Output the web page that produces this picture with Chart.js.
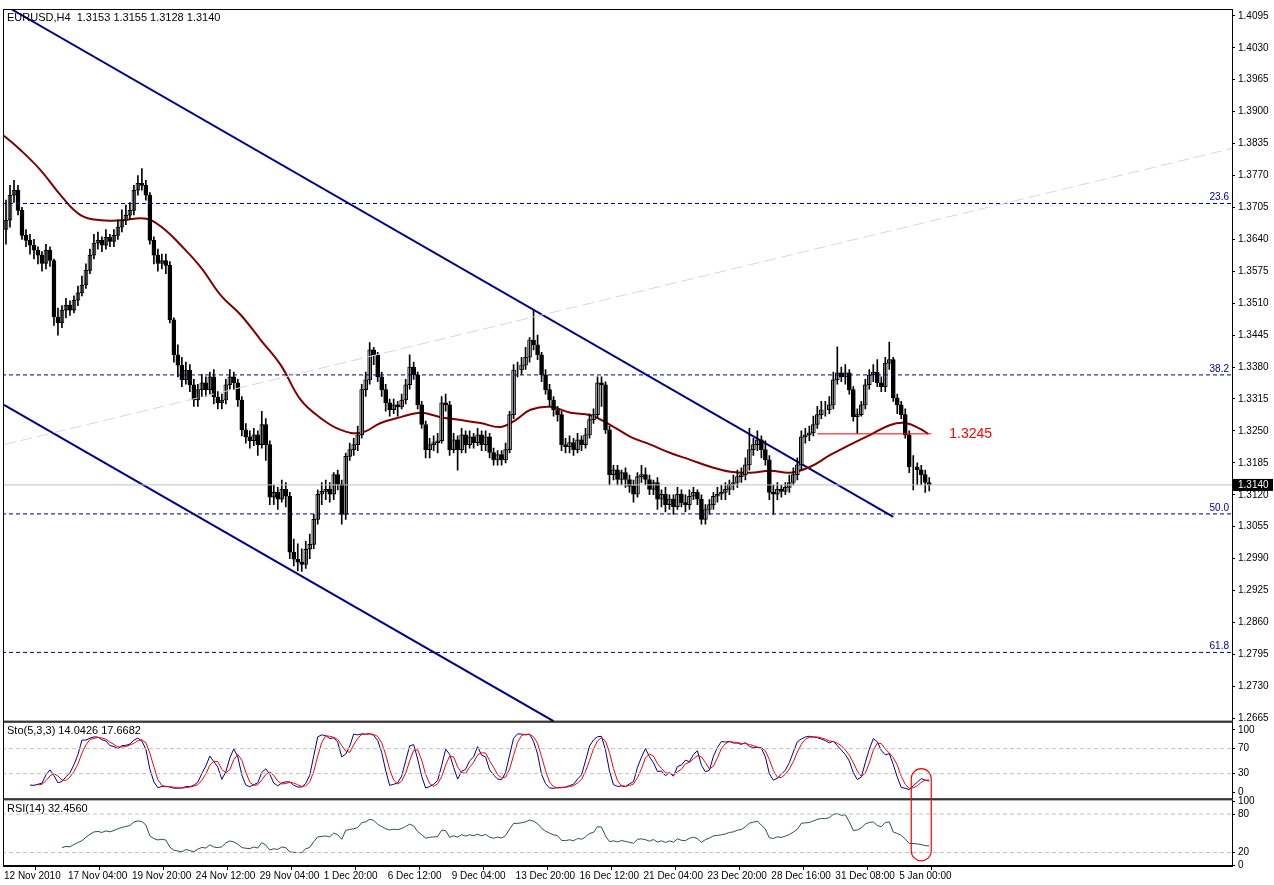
<!DOCTYPE html>
<html>
<head>
<meta charset="utf-8">
<script src="https://cdn.jsdelivr.net/npm/chart.js@4.4.1/dist/chart.umd.min.js"></script>
<style>
  html, body { margin: 0; padding: 0; background: #fff; }
  #wrap { width: 1274px; height: 885px; position: relative; }
</style>
</head>
<body>
<div id="wrap"><canvas id="chart"></canvas></div>
<script>
// EURUSD H4, prices stored as pips above 1.0000 (3140 = 1.3140)
const closes = [
  3679,3730,3740,3699,3648,3638,3628,3618,3608,3591,
  3618,3597,3482,3470,3496,3506,3496,3516,3531,3547,
  3577,3608,3632,3638,3628,3644,3636,3648,3665,3679,
  3689,3699,3740,3754,3750,3730,3638,3608,3591,3597,
  3587,3476,3405,3384,3354,3374,3344,3313,3334,3348,
  3334,3360,3319,3307,3313,3344,3360,3348,3313,3252,
  3238,3230,3242,3222,3263,3222,3115,3125,3111,3131,
  3117,3003,2989,2983,2978,3009,3019,3070,3121,3127,
  3131,3121,3161,3141,3080,3198,3212,3222,3242,3334,
  3354,3415,3405,3360,3334,3307,3293,3303,3299,3313,
  3344,3380,3364,3303,3263,3212,3222,3226,3230,3307,
  3303,3212,3232,3212,3242,3222,3238,3226,3242,3222,
  3238,3206,3191,3202,3191,3212,3283,3374,3374,3384,
  3400,3435,3425,3405,3364,3334,3313,3293,3283,3222,
  3218,3226,3212,3232,3222,3242,3273,3283,3348,3344,
  3252,3161,3171,3151,3165,3151,3137,3121,3157,3161,
  3151,3131,3145,3111,3121,3100,3111,3096,3121,3104,
  3100,3117,3125,3111,3070,3090,3100,3117,3121,3125,
  3131,3141,3145,3157,3161,3181,3212,3222,3232,3212,
  3191,3125,3121,3131,3127,3135,3145,3161,3181,3238,
  3242,3246,3263,3283,3293,3293,3303,3354,3368,3360,
  3368,3334,3279,3283,3303,3344,3364,3370,3348,3340,
  3388,3395,3317,3303,3283,3242,3177,3177,3171,3161,3145,3140
];
const highs = [
  3720,3750,3760,3750,3705,3660,3650,3640,3625,3615,
  3630,3625,3600,3500,3505,3520,3515,3525,3545,3565,
  3590,3620,3650,3655,3645,3660,3650,3660,3680,3700,
  3710,3715,3750,3770,3784,3760,3735,3645,3620,3610,
  3610,3595,3480,3425,3400,3390,3385,3355,3345,3365,
  3360,3370,3375,3330,3325,3355,3375,3370,3355,3320,
  3265,3250,3255,3250,3290,3275,3230,3140,3135,3150,
  3145,3125,3030,3020,3010,3025,3040,3080,3130,3145,
  3150,3145,3165,3170,3150,3205,3225,3235,3260,3345,
  3370,3430,3420,3410,3370,3345,3315,3315,3310,3325,
  3355,3405,3390,3370,3310,3270,3235,3240,3245,3320,
  3325,3310,3245,3240,3255,3250,3250,3245,3255,3250,
  3250,3245,3215,3210,3210,3225,3290,3385,3390,3400,
  3420,3440,3496,3445,3410,3375,3345,3320,3300,3290,
  3235,3240,3235,3245,3240,3255,3285,3295,3360,3360,
  3350,3260,3180,3180,3170,3175,3160,3150,3165,3180,
  3175,3160,3150,3155,3130,3135,3120,3120,3135,3130,
  3120,3130,3135,3130,3120,3100,3110,3125,3135,3140,
  3145,3150,3160,3170,3175,3195,3255,3235,3250,3240,
  3230,3200,3140,3145,3140,3145,3160,3175,3195,3250,
  3255,3260,3280,3300,3310,3310,3320,3370,3421,3380,
  3385,3375,3340,3295,3310,3355,3375,3385,3395,3360,
  3400,3431,3400,3325,3310,3295,3250,3200,3185,3180,3170,3155
];
const lows = [
  3630,3665,3715,3690,3640,3625,3610,3600,3590,3575,
  3580,3585,3465,3445,3460,3480,3485,3490,3505,3525,
  3540,3570,3600,3620,3615,3620,3625,3625,3640,3655,
  3670,3680,3690,3730,3740,3720,3630,3590,3575,3580,
  3570,3470,3390,3360,3340,3345,3330,3300,3300,3320,
  3320,3325,3305,3295,3295,3305,3335,3335,3300,3240,
  3225,3215,3220,3200,3215,3190,3100,3100,3090,3105,
  3095,2990,2975,2965,2964,2970,2990,3010,3060,3100,
  3110,3105,3110,3130,3060,3070,3190,3200,3210,3235,
  3320,3345,3385,3350,3320,3290,3280,3285,3280,3295,
  3305,3335,3355,3295,3255,3195,3195,3210,3205,3225,
  3290,3200,3205,3170,3205,3205,3215,3215,3220,3210,
  3210,3195,3180,3180,3180,3185,3205,3275,3360,3365,
  3375,3390,3415,3395,3350,3325,3300,3280,3270,3210,
  3205,3205,3200,3205,3210,3215,3235,3265,3275,3300,
  3245,3140,3150,3140,3140,3135,3125,3105,3115,3145,
  3140,3120,3120,3090,3095,3085,3090,3080,3090,3095,
  3085,3090,3110,3100,3060,3060,3080,3090,3105,3110,
  3110,3120,3130,3135,3145,3150,3170,3200,3210,3195,
  3180,3110,3080,3110,3115,3120,3125,3140,3150,3170,
  3225,3230,3240,3255,3275,3280,3285,3295,3345,3350,
  3345,3325,3270,3245,3280,3295,3335,3350,3340,3330,
  3330,3375,3310,3285,3275,3235,3165,3130,3140,3140,3125,3128
];
const firstOpen = 3660;

// moving average: bar index -> price
const maIdx = [-0.5,3.75,8.75,13.75,18.75,23.75,28.75,33.75,36.25,40,43.75,48.75,53.75,58.75,63.75,68.75,73.75,78.75,83.75,88.75,93.75,98.75,103.75,108.75,113.75,118.75,123.75,127.5,131.25,136.25,141.25,146.25,151.25,156.25,161.25,166.25,171.25,176.25,181.25,186.25,191.25,196.25,201.25,206.25,211.25,216.25,221.25,225,228.75,230.75];
const maVal = [1.3851,1.3821,1.3780,1.3729,1.3689,1.3679,1.3679,1.3683,1.3679,1.3658,1.3628,1.3583,1.3526,1.3486,1.3435,1.3384,1.3313,1.3276,1.3252,1.3246,1.3266,1.3278,1.3287,1.3278,1.3272,1.3266,1.3258,1.3272,1.3293,1.3299,1.3287,1.3282,1.3262,1.3238,1.3222,1.3205,1.3191,1.3177,1.3167,1.3165,1.3169,1.3165,1.3177,1.3201,1.3222,1.3242,1.3262,1.3266,1.3254,1.3244];

// drawn lines: [index, price] end points
const channelTop = [[1.25, 1.4109], [222, 1.3075]];
const channelBottom = [[-0.5, 1.3303], [137, 1.2659]];
const fanLine = [[-0.5, 1.3222], [306.75, 1.3825]];
const fibLevels = [1.3713, 1.3364, 1.3081, 1.2799];
const fibLabels = ['23.6', '38.2', '50.0', '61.8'];
const levelLine = [[203, 1.3244], [231.5, 1.3244]];
const levelText = '1.3245';
const lastPrice = 1.3140;

const priceTicks = [];
for (let p = 12665; p <= 14095; p += 65) priceTicks.push(p / 10000);
const timeLabels = ['12 Nov 2010','17 Nov 04:00','19 Nov 20:00','24 Nov 12:00','29 Nov 04:00','1 Dec 20:00','6 Dec 12:00','9 Dec 04:00','13 Dec 20:00','16 Dec 12:00','21 Dec 04:00','23 Dec 20:00','28 Dec 16:00','31 Dec 08:00','5 Jan 00:00'];

// build OHLC
const C = closes.map(v => 1 + v / 10000);
const H = highs.map(v => 1 + v / 10000);
const L = lows.map(v => 1 + v / 10000);
const O = C.map((c, i) => i === 0 ? 1 + firstOpen / 10000 : C[i - 1]);

// Stochastic(5,3,3)
function sma(arr, n) {
  return arr.map((v, i) => {
    if (i < n - 1 || arr.slice(i - n + 1, i + 1).some(x => x === null)) return null;
    return arr.slice(i - n + 1, i + 1).reduce((a, b) => a + b, 0) / n;
  });
}
const num = [], den = [];
C.forEach((c, i) => {
  if (i < 4) { num.push(null); den.push(null); return; }
  const hh = Math.max(...H.slice(i - 4, i + 1));
  const ll = Math.min(...L.slice(i - 4, i + 1));
  num.push(c - ll); den.push(hh - ll);
});
const sNum = sma(num, 3), sDen = sma(den, 3);
const stoK = sNum.map((v, i) => v === null ? null : (sDen[i] ? v / sDen[i] * 100 : 50));
const stoD = sma(stoK, 3);

// RSI(14)
const rsi = [null];
let ag = 0, al = 0;
for (let i = 1; i < C.length; i++) {
  const d = C[i] - C[i - 1];
  const g = Math.max(d, 0), l = Math.max(-d, 0);
  if (i <= 14) { ag += g / 14; al += l / 14; rsi.push(i === 14 ? 100 - 100 / (1 + ag / (al || 1e-9)) : null); }
  else { ag = (ag * 13 + g) / 14; al = (al * 13 + l) / 14; rsi.push(100 - 100 / (1 + ag / (al || 1e-9))); }
}

const wicks = C.map((c, i) => ({ x: i, y: [L[i], H[i]] }));
const bodies = C.map((c, i) => ({ x: i, y: [O[i], c] }));
const bodyColors = C.map((c, i) => c >= O[i] ? '#ffffff' : '#000000');
const pts = arr => arr.map(([x, y]) => ({ x, y }));
const FONT = "'Liberation Sans', Arial, sans-serif";

function lineDs(data, color, width, dash, axis) {
  return { type: 'line', data, borderColor: color, borderWidth: width, borderDash: dash || [],
    pointRadius: 0, fill: false, yAxisID: axis || 'price', spanGaps: false };
}

const xMax = 306.75;
const datasets = [
  lineDs(pts(fanLine), '#d4d4f4', 1, [12, 5]),
  ...fibLevels.map(f => lineDs([{ x: -1, y: f }, { x: xMax, y: f }], '#00008b', 1, [4, 3])),
  lineDs([{ x: -1, y: lastPrice }, { x: xMax, y: lastPrice }], '#c0c0c0', 1),
  lineDs(pts(levelLine), '#ff0000', 1),
  { type: 'bar', data: wicks, backgroundColor: '#000', barThickness: 1, grouped: false, yAxisID: 'price' },
  { type: 'bar', data: bodies, backgroundColor: bodyColors, borderColor: '#000', borderWidth: 1,
    borderSkipped: false, barThickness: 4, grouped: false, yAxisID: 'price' },
  Object.assign(lineDs(maIdx.map((x, i) => ({ x, y: maVal[i] })), '#800000', 2), { tension: 0.4 }),
  lineDs(pts(channelTop), '#00008b', 2),
  lineDs(pts(channelBottom), '#00008b', 2),
  ...[70, 30].map(v => lineDs([{ x: -1, y: v }, { x: xMax, y: v }], '#c0c0c0', 1, [4, 3], 'sto')),
  lineDs(stoD.map((y, x) => ({ x, y })), '#ff0000', 1, null, 'sto'),
  lineDs(stoK.map((y, x) => ({ x, y })), '#00008b', 1, null, 'sto'),
  ...[80, 20].map(v => lineDs([{ x: -1, y: v }, { x: xMax, y: v }], '#c0c0c0', 1, [4, 3], 'rsi')),
  lineDs(rsi.map((y, x) => ({ x, y })), '#2f4f4f', 1, null, 'rsi')
];

const overlay = {
  id: 'overlay',
  afterDraw(chart) {
    const { ctx, chartArea: a, scales } = chart;
    const px = scales.price, st = scales.sto, rs = scales.rsi, x = scales.x;
    ctx.save();
    ctx.strokeStyle = '#000'; ctx.lineWidth = 1;
    [px, st, rs].forEach(s => ctx.strokeRect(a.left + 0.5, s.top + 0.5, a.right - a.left, s.bottom - s.top - 1));
    ctx.fillStyle = '#000'; ctx.font = '11px ' + FONT; ctx.textBaseline = 'top'; ctx.textAlign = 'left';
    ctx.fillText('EURUSD,H4  1.3153 1.3155 1.3128 1.3140', a.left + 4, px.top + 3);
    ctx.fillText('Sto(5,3,3) 14.0426 17.6682', a.left + 4, st.top + 4);
    ctx.fillText('RSI(14) 32.4560', a.left + 4, rs.top + 4);
    // fib labels
    ctx.font = '10px ' + FONT; ctx.fillStyle = '#00008b'; ctx.textAlign = 'right'; ctx.textBaseline = 'bottom';
    fibLevels.forEach((f, i) => ctx.fillText(fibLabels[i], a.right - 3, px.getPixelForValue(f) - 1));
    // level text
    ctx.fillStyle = '#ff0000'; ctx.font = '14px ' + FONT; ctx.textAlign = 'left'; ctx.textBaseline = 'middle';
    ctx.fillText(levelText, x.getPixelForValue(236), px.getPixelForValue(levelLine[0][1]));
    // last price tag
    const yp = px.getPixelForValue(lastPrice);
    ctx.fillStyle = '#000'; ctx.fillRect(a.right + 1, yp - 6, 40, 12);
    ctx.fillStyle = '#fff'; ctx.font = '10px ' + FONT; ctx.textBaseline = 'middle';
    ctx.fillText(lastPrice.toFixed(4), a.right + 6, yp);
    // highlight capsule
    const l = x.getPixelForValue(226.5), r = x.getPixelForValue(231.5);
    const t = st.getPixelForValue(38), b = rs.getPixelForValue(7), rad = 10;
    ctx.strokeStyle = '#ff0000'; ctx.lineWidth = 1.2;
    ctx.beginPath(); ctx.roundRect(l, t, r - l, b - t, rad); ctx.stroke();
    ctx.restore();
  }
};

const yCommon = {
  type: 'linear', position: 'right', stack: 'panels', offset: false,
  border: { display: false },
  grid: { drawOnChartArea: false, tickLength: 3, color: '#000' },
  ticks: { color: '#000', font: { size: 10, family: FONT }, padding: 3, autoSkip: false },
  afterFit(s) { s.width = 42; }
};

new Chart(document.getElementById('chart'), {
  data: { datasets },
  options: {
    responsive: true, maintainAspectRatio: false, animation: false,
    layout: { padding: { left: 3, top: 3, right: 0, bottom: 0 } },
    plugins: { legend: { display: false }, tooltip: { enabled: false } },
    scales: {
      x: {
        type: 'linear', min: -0.75, max: xMax, offset: false,
        border: { color: '#000' },
        grid: { drawOnChartArea: false, tickLength: 4, color: '#000' },
        afterBuildTicks(s) { s.ticks = timeLabels.map((_, k) => ({ value: k * 16 - 0.5 })); },
        ticks: { color: '#000', font: { size: 10, family: FONT }, align: 'start', maxRotation: 0, padding: 0,
          autoSkip: false, callback: (v, i) => timeLabels[i] },
        afterFit(s) { s.height = 19; }
      },
      price: Object.assign({}, yCommon, {
        min: 1.2658, max: 1.4109, stackWeight: 716,
        afterBuildTicks(s) { s.ticks = priceTicks.map(v => ({ value: v })); },
        ticks: Object.assign({}, yCommon.ticks, { callback: v => v.toFixed(4) })
      }),
      sto: Object.assign({}, yCommon, {
        min: -11, max: 113, stackWeight: 78,
        afterBuildTicks(s) { s.ticks = [0, 30, 70, 100].map(v => ({ value: v })); },
        ticks: Object.assign({}, yCommon.ticks, { callback: v => String(v) })
      }),
      rsi: Object.assign({}, yCommon, {
        min: -1, max: 103, stackWeight: 67,
        afterBuildTicks(s) { s.ticks = [0, 20, 80, 100].map(v => ({ value: v })); },
        ticks: Object.assign({}, yCommon.ticks, { callback: v => String(v) })
      })
    }
  },
  plugins: [overlay]
});
</script>
</body>
</html>
